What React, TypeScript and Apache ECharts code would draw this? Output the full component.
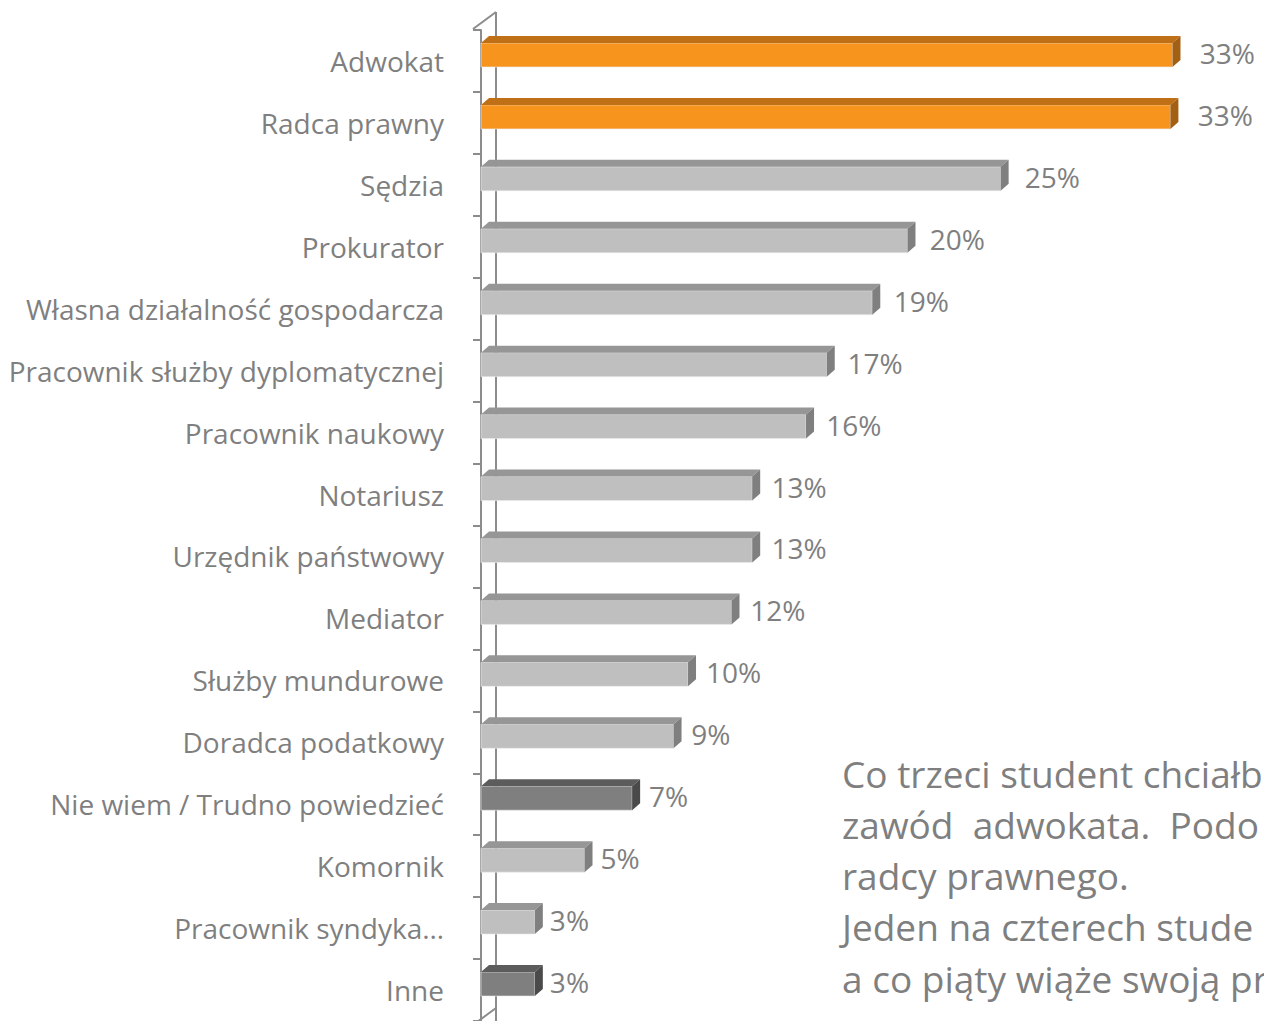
import React, { useEffect, useRef } from "react";
import * as echarts from "echarts";

const categories = [
  "Adwokat",
  "Radca prawny",
  "Sędzia",
  "Prokurator",
  "Własna działalność gospodarcza",
  "Pracownik służby dyplomatycznej",
  "Pracownik naukowy",
  "Notariusz",
  "Urzędnik państwowy",
  "Mediator",
  "Służby mundurowe",
  "Doradca podatkowy",
  "Nie wiem / Trudno powiedzieć",
  "Komornik",
  "Pracownik syndyka…",
  "Inne",
];
const values = [33.4, 33.3, 25.1, 20.6, 18.9, 16.7, 15.7, 13.1, 13.1, 12.1, 10.0, 9.3, 7.3, 5.0, 2.6, 2.6];
const valueLabels = ["33%", "33%", "25%", "20%", "19%", "17%", "16%", "13%", "13%", "12%", "10%", "9%", "7%", "5%", "3%", "3%"];
const barKinds = ["orange", "orange", "light", "light", "light", "light", "light", "light", "light", "light", "light", "light", "dark", "light", "light", "dark"];
const noteLines = [
  "Co trzeci student chciałb",
  "zawód  adwokata.  Podo",
  "radcy prawnego.",
  "Jeden na czterech stude",
  "a co piąty wiąże swoją pr",
];

const palette: Record<string, { front: string; top: string; side: string }> = {
  orange: { front: "#F7941E", top: "#BF6F15", side: "#A35F12" },
  light: { front: "#BFBFBF", top: "#969696", side: "#7F7F7F" },
  dark: { front: "#7F7F7F", top: "#5C5C5C", side: "#4A4A4A" },
};

const FONT = "'Open Sans', Lato, sans-serif";
const GRAY = "#7F7F7F";

export default function App() {
  const ref = useRef<HTMLDivElement>(null);
  useEffect(() => {
    document.body.style.margin = "0";
    if (!ref.current) return;
    const chart = echarts.init(ref.current, undefined, { renderer: "svg" });
    const data = values.map((v, i) => [v, i]);
    chart.setOption({
      animation: false,
      grid: { left: 481, top: 30, height: 997, width: 766 },
      xAxis: {
        type: "value",
        min: 0,
        max: 37,
        show: false,
        splitLine: { show: false },
      },
      yAxis: {
        type: "category",
        data: categories,
        inverse: true,
        offset: 8,
        axisLine: { show: true, lineStyle: { color: "#8C8C8C", width: 2 } },
        axisTick: { show: true, length: 8, lineStyle: { color: "#8C8C8C", width: 2 } },
        axisLabel: { color: GRAY, fontSize: 28, fontFamily: FONT, margin: 29 },
        splitLine: { show: false },
      },
      graphic: [
        { type: "line", z: -1, shape: { x1: 496, y1: 12, x2: 496, y2: 1021 }, style: { stroke: "#8C8C8C", lineWidth: 2 } },
        { type: "line", z: -1, shape: { x1: 473, y1: 29, x2: 496, y2: 12 }, style: { stroke: "#8C8C8C", lineWidth: 2 } },
        { type: "line", z: -1, shape: { x1: 496, y1: 1008, x2: 473, y2: 1025 }, style: { stroke: "#8C8C8C", lineWidth: 2 } },
        ...noteLines.map((t, i) => ({
          type: "text",
          x: 842,
          y: 773 + i * 51.3,
          style: { text: t, fill: GRAY, font: `37px ${FONT}`, verticalAlign: "middle", align: "left" },
        })),
      ],
      series: [
        {
          type: "custom",
          data,
          encode: { x: 0, y: 1 },
          renderItem: (params: any, api: any) => {
            const v = api.value(0);
            const idx = api.value(1);
            const start = api.coord([0, idx]);
            const end = api.coord([v, idx]);
            const h = 24;
            const dx = 8;
            const dy = 7;
            const cy = start[1] - 6;
            const x0 = start[0];
            const x1 = end[0];
            const y0 = cy - h / 2;
            const y1 = cy + h / 2;
            const c = palette[barKinds[idx]];
            return {
              type: "group",
              children: [
                { type: "rect", shape: { x: x0, y: y0, width: x1 - x0, height: h }, style: { fill: c.front, stroke: "#EDEDED", lineWidth: 0.6 } },
                { type: "polygon", shape: { points: [[x0, y0], [x0 + dx, y0 - dy], [x1 + dx, y0 - dy], [x1, y0]] }, style: { fill: c.top } },
                { type: "polygon", shape: { points: [[x1, y0], [x1 + dx, y0 - dy], [x1 + dx, y1 - dy], [x1, y1]] }, style: { fill: c.side } },
                {
                  type: "text",
                  x: x1 + 14 + v * 0.4,
                  y: cy - 2,
                  style: { text: valueLabels[idx], fill: GRAY, font: `28px ${FONT}`, verticalAlign: "middle", align: "left" },
                },
              ],
            };
          },
        },
      ],
    });
    return () => chart.dispose();
  }, []);
  return <div ref={ref} style={{ width: 1264, height: 1021, overflow: "hidden" }} />;
}
